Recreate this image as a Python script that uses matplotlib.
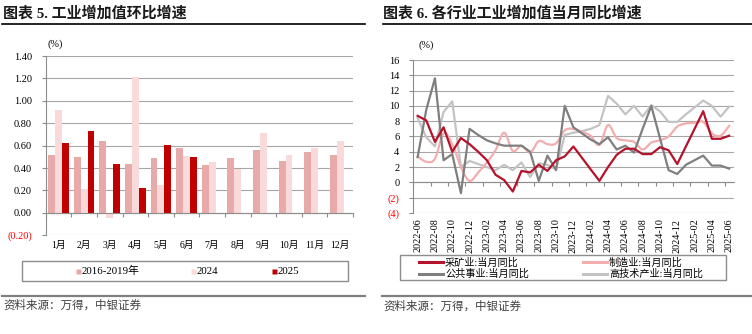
import matplotlib
matplotlib.use('Agg')
import matplotlib.pyplot as plt
import numpy as np
import pandas as pd
from matplotlib.lines import Line2D
from matplotlib.patches import Rectangle

CJK = 'Noto Sans CJK SC'
SERIF = 'Liberation Serif'
plt.rcParams['font.family'] = [SERIF, CJK]

# ---------------- data: left chart (month-on-month, %) ----------------
bar_months = ['1月', '2月', '3月', '4月', '5月', '6月', '7月', '8月', '9月', '10月', '11月', '12月']
avg_2016_2019 = [0.52, 0.50, 0.645, 0.44, 0.49, 0.58, 0.43, 0.49, 0.56, 0.46, 0.54, 0.52]
mom_2024 = [0.92, 0.21, -0.05, 1.21, 0.25, 0.51, 0.45, 0.39, 0.71, 0.52, 0.58, 0.64]
mom_2025 = [0.62, 0.73, 0.44, 0.22, 0.61, 0.50]
bar_legend = ['2016-2019年', '2024', '2025']

# ---------------- data: right chart (yoy by sector, %) ----------------
line_months = list(pd.period_range('2022-06', '2025-06', freq='M').strftime('%Y-%m'))
mining = [8.7, 8.1, 5.3, 7.2, 4.0, 5.8, 5.0, 4.0, 2.9, 1.0, 0.3, -1.2,
          1.5, 1.3, 2.3, 1.5, 2.9, 3.4, 4.7, 3.2, 1.7, 0.2, 2.0, 3.6,
          4.4, 4.4, 3.7, 3.7, 4.6, 4.2, 2.4, 4.7, 7.0, 9.3, 5.7, 5.7, 6.1]
manufacturing = [3.4, 2.7, 3.1, 6.4, 5.0, 2.0, 0.2, 1.3, 2.6, 4.2, 6.5, 4.1,
                 4.8, 3.9, 5.4, 5.0, 5.1, 6.8, 7.0, 6.6, 6.1, 4.9, 7.5, 5.8,
                 5.5, 5.3, 4.3, 5.2, 5.5, 6.0, 7.3, 7.7, 7.8, 7.9, 6.4, 6.1, 7.4]
utilities = [3.3, 9.5, 13.6, 2.9, 3.7, -1.4, 7.0, 6.2, 5.5, 5.1, 4.8, 4.8,
             4.8, 4.0, 0.2, 3.5, 1.6, 10.0, 7.2, 6.4, 5.6, 5.0, 5.9, 4.3,
             4.8, 3.9, 7.0, 10.0, 5.8, 1.6, 1.1, 2.3, 2.9, 3.5, 2.2, 2.2, 1.8]
hightech = [8.4, 5.9, 4.7, 9.2, 10.6, 2.0, 2.8, 2.4, 2.0, 1.6, 2.3, 1.6,
            2.6, 0.7, 2.5, 2.3, 1.7, 6.2, 6.5, 6.7, 7.0, 7.5, 11.3, 10.3,
            8.9, 10.0, 8.6, 10.1, 9.3, 7.9, 7.9, 8.9, 9.8, 10.7, 10.0, 8.6, 9.9]
line_names = ['采矿业:当月同比', '制造业:当月同比', '公共事业:当月同比', '高技术产业:当月同比']

W, H = 752, 334
fig = plt.figure(figsize=(W / 100, H / 100), dpi=100)


def fx(px):
    return px / W


def fy(py):
    return 1 - py / H


GRID = '#A6A6A6'
TXT = '#000000'

# ---------------- titles, rules, sources ----------------
fig.text(fx(3), fy(13), '图表 5. 工业增加值环比增速', fontsize=10.8, fontweight='bold',
         va='center', ha='left', color='#1a1a1a')
fig.text(fx(383), fy(13), '图表 6. 各行业工业增加值当月同比增速', fontsize=10.8, fontweight='bold',
         va='center', ha='left', color='#1a1a1a')
fig.add_artist(Line2D([fx(2), fx(365)], [fy(24), fy(24)], color='black', lw=1.2))
fig.add_artist(Line2D([fx(383), fx(752)], [fy(24), fy(24)], color='black', lw=1.2))
fig.add_artist(Line2D([fx(2), fx(365)], [fy(295.5), fy(295.5)], color='#808080', lw=1.6))
fig.add_artist(Line2D([fx(382), fx(752)], [fy(296), fy(296)], color='#808080', lw=1.6))
fig.text(fx(3), fy(305), '资料来源：万得，中银证券', fontsize=8.3, color='#404040',
         va='center', ha='left', family=[CJK])
fig.text(fx(383), fy(306), '资料来源：万得，中银证券', fontsize=8.3, color='#404040',
         va='center', ha='left', family=[CJK])

# ---------------- left: bar chart ----------------
ax1 = fig.add_axes([fx(45.7), fy(235.3), fx(353 - 45.7), (235.3 - 56) / H])
x = np.arange(len(bar_months))
w = 0.27
c_avg, c_24, c_25 = '#E8A9A9', '#F9DADA', '#C00000'
ax1.bar(x - w, avg_2016_2019, w, color=c_avg, zorder=3)
ax1.bar(x, mom_2024, w, color=c_24, zorder=3)
ax1.bar(np.arange(len(mom_2025)) + w, mom_2025, w, color=c_25, zorder=3)
ax1.set_xlim(-0.5, len(bar_months) - 0.5)
ax1.set_ylim(-0.2, 1.4)
yt = np.round(np.arange(-0.2, 1.401, 0.2), 2)
ax1.set_yticks(yt)
ax1.set_yticklabels([f'({abs(v):.2f})' if v < 0 else f'{v:.2f}' for v in yt])
for lab, v in zip(ax1.get_yticklabels(), yt):
    lab.set_color('#FF0000' if v < 0 else TXT)
ax1.yaxis.grid(True, color=GRID, lw=0.8, zorder=0)
ax1.set_axisbelow(True)
for s in ['top', 'right']:
    ax1.spines[s].set_visible(False)
ax1.spines['left'].set_color('#8C8C8C')
ax1.spines['bottom'].set_position(('data', 0))
ax1.spines['bottom'].set_color('#8C8C8C')
ax1.spines['bottom'].set_zorder(4)
ax1.set_xticks(np.arange(-0.5, len(bar_months), 1.0))
ax1.set_xticklabels([])
ax1.set_xticks(x, minor=True)
ax1.set_xticklabels(bar_months, minor=True)
ax1.tick_params(axis='x', which='major', length=3, color='#8C8C8C', direction='out')
ax1.tick_params(axis='x', which='minor', length=0, pad=20, labelsize=7)
ax1.tick_params(axis='y', length=3, color='#8C8C8C', pad=7, labelsize=7.5)
fig.text(fx(55), fy(44), '(%)', fontsize=7.5, ha='center', va='center')

# legend (left): frame, square keys and labels placed in figure pixels
fig.add_artist(Rectangle((fx(22), fy(281)), fx(348 - 22), (281 - 261) / H,
                         fill=False, edgecolor='#8C8C8C', lw=1.0))
for c, name, px in zip((c_avg, c_24, c_25), bar_legend, (77.8, 192.5, 274)):
    fig.add_artist(Line2D([fx(px)], [fy(271)], ls='none', marker='s', ms=3.6,
                          mec='none', mfc=c))
    fig.text(fx(px + 4), fy(271), name, fontsize=7.8, ha='left', va='center')

# ---------------- right: line chart ----------------
ax2 = fig.add_axes([fx(413.3), fy(213), fx(733.5 - 413.3), (213 - 60) / H])
xi = np.arange(len(line_months))


def smooth(xv, yv, n=12):
    pts = np.column_stack([xv, yv]).astype(float)
    P = np.vstack([pts[0], pts, pts[-1]])
    out = []
    t = np.linspace(0, 1, n, endpoint=False)[:, None]
    for i in range(1, len(P) - 2):
        p0, p1, p2, p3 = P[i - 1], P[i], P[i + 1], P[i + 2]
        seg = 0.5 * ((2 * p1) + (-p0 + p2) * t + (2 * p0 - 5 * p1 + 4 * p2 - p3) * t ** 2
                     + (-p0 + 3 * p1 - 3 * p2 + p3) * t ** 3)
        out.append(seg)
    out.append(pts[-1:])
    return np.vstack(out)


c_min, c_man, c_uti, c_ht = '#B5122B', '#F2AEAE', '#7F7F7F', '#C3C3C3'
lw = 1.6
ax2.plot(xi, hightech, color=c_ht, lw=lw, zorder=3)
ax2.plot(xi, utilities, color=c_uti, lw=lw, zorder=4)
sm = smooth(xi, manufacturing)
ax2.plot(sm[:, 0], sm[:, 1], color=c_man, lw=lw, zorder=3.5)
ax2.plot(xi, mining, color=c_min, lw=lw, zorder=5)
ax2.set_xlim(-0.5, len(line_months) - 0.5)
ax2.set_ylim(-4, 16)
yt2 = np.arange(-4, 17, 2)
ax2.set_yticks(yt2)
ax2.set_yticklabels([f'({abs(v)})' if v < 0 else f'{v}' for v in yt2])
for lab, v in zip(ax2.get_yticklabels(), yt2):
    lab.set_color('#FF0000' if v < 0 else TXT)
ax2.yaxis.grid(True, color=GRID, lw=0.8, zorder=0)
ax2.set_axisbelow(True)
for s in ['top', 'right']:
    ax2.spines[s].set_visible(False)
ax2.spines['left'].set_color('#8C8C8C')
ax2.spines['bottom'].set_position(('data', 0))
ax2.spines['bottom'].set_color('#8C8C8C')
ax2.set_xticks(np.arange(-0.5, len(line_months), 2.0))
ax2.set_xticklabels([])
ax2.set_xticks(xi[::2], minor=True)
ax2.set_xticklabels(line_months[::2], minor=True, rotation=90)
ax2.tick_params(axis='x', which='major', length=3, color='#8C8C8C', direction='out')
ax2.tick_params(axis='x', which='minor', length=0, pad=26, labelsize=7.3)
ax2.tick_params(axis='y', length=3, color='#8C8C8C', pad=7, labelsize=7.5)
fig.text(fx(426), fy(45), '(%)', fontsize=7.5, ha='center', va='center')

# legend (right): frame, line keys and labels placed in figure pixels
fig.add_artist(Rectangle((fx(400), fy(280)), fx(726 - 400), (280 - 255) / H,
                         fill=False, edgecolor='#8C8C8C', lw=1.0))
line_colors = (c_min, c_man, c_uti, c_ht)
slots = [(419, 262.3), (583, 262.3), (419, 274), (583, 274)]
for c, name, (px, py) in zip(line_colors, line_names, slots):
    fig.add_artist(Line2D([fx(px), fx(px + 24)], [fy(py), fy(py)], color=c, lw=2.2))
    fig.text(fx(px + 26), fy(py), name, fontsize=7.3, ha='left', va='center')

fig.savefig('out.png', dpi=100)
